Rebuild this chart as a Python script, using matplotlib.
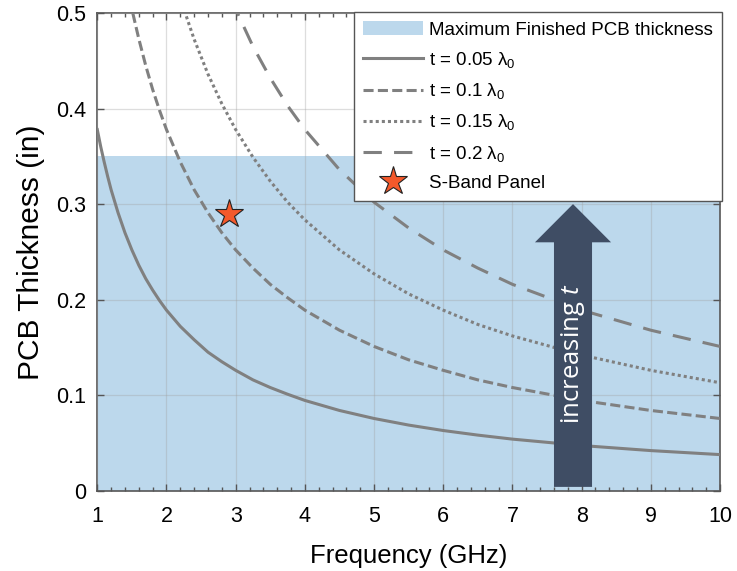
import matplotlib
matplotlib.use("Agg")
import matplotlib.pyplot as plt
from matplotlib.patches import Patch, FancyArrow
from matplotlib.lines import Line2D

plt.rcParams['font.family'] = ['Liberation Sans', 'DejaVu Sans']
plt.rcParams['mathtext.fontset'] = 'custom'
plt.rcParams['mathtext.rm'] = 'Liberation Sans'
plt.rcParams['mathtext.it'] = 'Open Sans:italic'

# frequency grid (GHz) and thickness (in)
freq = [1, 1.05, 1.1, 1.15, 1.2, 1.3, 1.4, 1.5, 1.6, 1.7, 1.8, 1.9, 2, 2.2,
        2.4, 2.6, 2.8, 3, 3.25, 3.5, 3.75, 4, 4.5, 5, 5.5, 6, 6.5, 7, 8, 9, 10]
t_005 = [0.378, 0.360, 0.344, 0.329, 0.315, 0.291, 0.270, 0.252, 0.236, 0.222,
         0.210, 0.199, 0.189, 0.172, 0.158, 0.145, 0.135, 0.126, 0.116, 0.108,
         0.101, 0.0945, 0.084, 0.0756, 0.0687, 0.063, 0.0582, 0.054, 0.0473,
         0.042, 0.0378]
t_010 = [0.756, 0.720, 0.687, 0.657, 0.630, 0.582, 0.540, 0.504, 0.473, 0.445,
         0.420, 0.398, 0.378, 0.344, 0.315, 0.291, 0.270, 0.252, 0.233, 0.216,
         0.202, 0.189, 0.168, 0.151, 0.137, 0.126, 0.116, 0.108, 0.0945, 0.084,
         0.0756]
t_015 = [1.134, 1.080, 1.031, 0.986, 0.945, 0.872, 0.810, 0.756, 0.709, 0.667,
         0.630, 0.597, 0.567, 0.515, 0.4725, 0.436, 0.405, 0.378, 0.349, 0.324,
         0.302, 0.2835, 0.252, 0.227, 0.206, 0.189, 0.174, 0.162, 0.142, 0.126,
         0.113]
t_020 = [1.512, 1.440, 1.375, 1.315, 1.260, 1.163, 1.080, 1.008, 0.945, 0.889,
         0.840, 0.796, 0.756, 0.687, 0.630, 0.582, 0.540, 0.504, 0.465, 0.432,
         0.403, 0.378, 0.336, 0.302, 0.275, 0.252, 0.233, 0.216, 0.189, 0.168,
         0.151]
labels = [r't = 0.05 $\mathrm{\lambda}_0$', r't = 0.1 $\mathrm{\lambda}_0$',
          r't = 0.15 $\mathrm{\lambda}_0$', r't = 0.2 $\mathrm{\lambda}_0$']
max_thickness = 0.35
panel_freq = 2.9
panel_thick = 0.29

gray = '#808080'
fill_c = '#bcd8ec'

fig = plt.figure(figsize=(7.37, 5.71), dpi=100)
ax = fig.add_axes([0.132, 0.1406, 0.845, 0.8366])

ax.axhspan(0, max_thickness, color=fill_c, lw=0, zorder=0)

styles = ['-', (0, (3.3, 1.4)), (0, (1, 1)), (0, (6, 4))]
for vals, ls in zip([t_005, t_010, t_015, t_020], styles):
    ax.plot(freq, vals, color=gray, lw=2.2, ls=ls, zorder=3)

ax.plot([panel_freq], [panel_thick], marker='*', ms=21, color='#f4592b',
        mec='#222222', mew=0.8, ls='none', zorder=5)

# arrow showing increasing t
ax.add_patch(FancyArrow(7.875, 0.004, 0, 0.296, width=0.55, head_width=1.1,
                        head_length=0.04, length_includes_head=True,
                        color='#3f4d64', lw=0, zorder=6))
ax.text(7.875, 0.143, r'increasing $t$', rotation=90, color='white',
        family='Open Sans', fontsize=18.5, ha='center', va='center', zorder=7)

ax.set_xlim(1, 10)
ax.set_ylim(0, 0.5)
ax.set_xticks(range(1, 11))
ax.set_xticks([1 + 0.2 * i for i in range(46)], minor=True)
ax.set_yticks([0, 0.1, 0.2, 0.3, 0.4, 0.5])
ax.set_yticklabels(['0', '0.1', '0.2', '0.3', '0.4', '0.5'])
ax.tick_params(which='both', direction='in', top=True, right=True,
               labelsize=15.5, color='#555555', width=1.0)
ax.tick_params(which='major', length=5)
ax.tick_params(axis='x', which='major', pad=11)
ax.tick_params(axis='y', which='major', pad=8)
ax.tick_params(which='minor', length=3)
ax.grid(True, which='major', color='#a0a0a0', alpha=0.35, lw=0.9, zorder=2)
ax.set_axisbelow(False)
for s in ax.spines.values():
    s.set_color('#555555')
    s.set_linewidth(1.2)

ax.set_xlabel('Frequency (GHz)', fontsize=18.5, labelpad=12)
ax.set_ylabel('PCB Thickness (in)', fontsize=21.5, labelpad=8)

handles = [Patch(facecolor=fill_c, edgecolor='none')]
for ls in styles:
    handles.append(Line2D([], [], color=gray, lw=2.2, ls=ls))
handles.append(Line2D([], [], marker='*', ms=21, color='#f4592b', mec='#222222',
                      mew=0.8, ls='none'))
leg = ax.legend(handles, ['Maximum Finished PCB thickness'] + labels + ['S-Band Panel'],
                loc='upper right', bbox_to_anchor=(1.003, 1.002), borderaxespad=0,
                fontsize=13.5, handlelength=3.2, handletextpad=0.3,
                labelspacing=0.6, borderpad=0.5, fancybox=False,
                framealpha=1, edgecolor='#555555')
leg.get_frame().set_linewidth(1.0)
leg.set_zorder(8)

fig.savefig('out.png', dpi=100)
